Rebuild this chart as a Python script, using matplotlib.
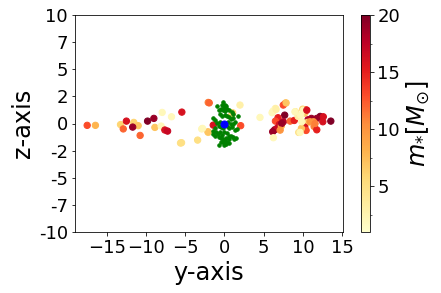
import numpy as np
import matplotlib
matplotlib.use("Agg")
import matplotlib.pyplot as plt
from matplotlib.ticker import MultipleLocator

# Colored (massive) points: y-axis position, z-axis position, mass
star_y = [-17.5, -16.45, -13.25, -12.9, -12.5, -11.56, -11.0, -11.7, -10.75, -9.8,
          -9.0, -7.94, -5.43, -6.75, -8.87, -8.07, -7.6, -7.25, -5.6, -3.42,
          -2.9, -2.07, -2.07, -1.94, 1.98, -1.43, -2.1, -2.8, 2.07, 0.92,
          -5.47, 1.05, 4.53, 6.07,
          7.77, 6.5, 7.5, 7.86, 6.15, 7.68, 9.05, 6.83, 6.5, 7.0,
          7.5, 8.37, 8.9, 9.39, 6.4, 6.7, 7.26, 6.15, 6.24, 6.23,
          6.58, 9.47, 9.98, 10.4, 10.24, 9.73, 11.09, 12.2, 11.77, 13.56,
          12.54, 10.65, 11.35, 10.58, 10.24, 11.43, 11.77, 10.41, 9.81, 9.64,
          8.99, 10.07, 10.5, 12.6, 10.9, 11.55, 9.86, 7.3, 7.1]
star_z = [-0.17, -0.17, -0.1, -0.5, 0.22, 0.1, -0.2, -0.33, -1.1, 0.22,
          0.47, 1.02, 1.05, 0.62, -0.36, -0.24, -0.6, -0.7, -1.8, -1.53,
          -0.5, 1.94, -0.82, 1.9, 1.7, -0.15, -0.76, -0.45, -0.2, 0.77,
          -1.77, 0.99, 0.56, 0.99,
          1.88, 1.39, 1.7, 1.9, 1.08, 0.77, 1.08, 0.53, 0.22, -0.09,
          0.16, 0.22, 0.28, 0.65, -0.58, -0.45, -0.21, -0.76, -1.31, 1.17,
          1.3, -0.82, 1.32, 1.26, 0.96, 0.77, 0.47, 0.65, 0.47, 0.22,
          0.16, 0.34, 0.16, 0.10, -0.33, -0.27, -0.58, -0.64, -0.45, -0.82,
          1.08, 1.23, 1.23, 0.62, 0.16, 0.0, 0.16, 0.0, -0.61]
star_m = [13, 8, 6, 12, 16, 6, 7, 19, 12, 20,
          19, 2, 16, 2, 7, 2, 16, 17, 5, 5,
          2, 11, 6, 12, 3, 16, 7, 2, 13, 6,
          5, 6, 2, 2,
          8, 3, 13, 7, 2, 20, 5, 15, 13, 16,
          18, 12, 15, 3, 19, 17, 8, 19, 2, 2,
          3, 5, 6, 12, 7, 2, 19, 20, 19, 20,
          16, 18, 10, 6, 16, 11, 15, 13, 7, 2,
          2, 2, 16, 16, 10, 11, 2, 19, 10]

# Green (light) particles
gas_y = [-0.23, 0.02, -0.32, -0.06, 0.19, -0.91, -0.74, -0.40, -0.15, 0.11,
         0.36, 0.62, 0.96, 1.13, 1.72, -0.57, -0.32, 0.02, 0.28, 0.53,
         0.79, 1.13, 1.38, 1.55, 1.30, 0.96, 0.62, 0.28, -0.15, -0.40,
         -0.74, -1.17, -1.43, -1.09, -1.51, -1.26, -0.83, -0.57, -0.32, -0.06,
         0.28, 0.53, 0.79, 1.13, 1.47, 0.53, 0.19, -0.15, -0.40, -0.66,
         0.02, 0.28, -0.15, -0.49, 0.19, -0.06, -0.74, 0.53, 0.79, 1.04,
         0.45, -0.57, -0.91, -1.17, -1.43, 1.21]
gas_z = [1.94, 1.75, 1.69, 1.51, 1.57, 1.57, 1.20, 1.33, 1.20, 1.14,
         1.33, 1.20, 1.08, 0.90, 0.71, 0.90, 0.71, 0.77, 0.71, 0.59,
         0.40, 0.47, 0.16, -0.52, -0.64, -0.33, -0.45, -0.27, -0.45, -0.33,
         -0.21, -0.45, -0.70, -0.82, -0.94, -1.13, -1.01, -0.76, -1.07, -0.82,
         -0.88, -1.13, -1.19, -1.25, -1.37, -1.44, -1.31, -1.44, -1.37, -1.25,
         -1.62, -1.68, -1.74, -1.68, -1.86, -1.99, -1.99, -1.80, -0.02, -0.09,
         0.16, 0.16, 0.04, 0.28, 0.47, -1.44]

# Central object
center_y = [0.0]
center_z = [0.0]

yticks = np.linspace(-10, 10, 9)
ytick_labels = [str(int(v)) for v in yticks]

fig = plt.figure(figsize=(441 / 72, 293 / 72), dpi=72)
ax = fig.add_axes([75 / 441, 61 / 293, 268 / 441, 217 / 293])
cax = fig.add_axes([361 / 441, 61 / 293, 9.5 / 441, 217 / 293])

sc = ax.scatter(star_y, star_z, c=star_m, cmap="YlOrRd", vmin=1, vmax=20, s=40)
ax.scatter(gas_y, gas_z, c="green", s=12)
ax.scatter(center_y, center_z, c="blue", s=50)

ax.set_ylim(-10, 10)
ax.set_yticks(yticks)
ax.set_yticklabels(ytick_labels)
ax.set_xticks([-15, -10, -5, 0, 5, 10, 15])
ax.tick_params(labelsize=18)
ax.set_xlabel("y-axis", fontsize=24)
ax.set_ylabel("z-axis", fontsize=24)

cbar = fig.colorbar(sc, cax=cax)
cbar.set_ticks([5, 10, 15, 20])
cbar.ax.yaxis.set_minor_locator(MultipleLocator(2.5))
cbar.ax.tick_params(labelsize=18)
cbar.set_label(r"$m_{*}[M_{\odot}]$", fontsize=24)

fig.savefig("out.png", dpi=72)
